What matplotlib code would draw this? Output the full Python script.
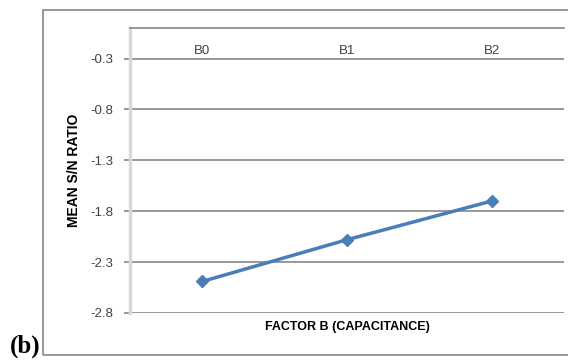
import matplotlib.pyplot as plt
from matplotlib.patches import Rectangle

# 因子B各水平的平均信噪比
levels = ['B0', 'B1', 'B2']
mean_sn = [-2.49, -2.08, -1.70]
yticks = [-0.3, -0.8, -1.3, -1.8, -2.3, -2.8]

fig = plt.figure(figsize=(5.68, 3.6), dpi=100)
ax = fig.add_axes([0.2289, 0.1306, 0.7641, 0.7916])

# 外框
fig.patches.append(Rectangle((43 / 568, 5 / 360), 1.0, 345 / 360, transform=fig.transFigure,
                             fill=False, edgecolor='#868686', linewidth=1.2, zorder=0))

x = list(range(len(levels)))
ax.plot(x, mean_sn, color='#4a7ebb', linewidth=2.5, marker='D', markersize=6,
        markeredgecolor='#4a7ebb', markerfacecolor='#4a7ebb')

ax.set_xlim(-0.5, len(levels) - 0.5)
ax.set_ylim(-2.8, 0)
ax.set_yticks(yticks)
ax.set_yticklabels([f'{v:.1f}' for v in yticks], fontsize=9.5, color='#404040',
                   family='Liberation Sans')
ax.yaxis.grid(True, color='#868686', linewidth=1.2)
ax.set_axisbelow(True)

# 类别轴在0处(顶部),标签放在轴线下方
ax.set_xticks(x)
ax.set_xticklabels(levels, fontsize=9.5, color='#404040', family='Liberation Sans')
ax.tick_params(axis='x', top=True, labeltop=True, bottom=False, labelbottom=False,
               length=0, pad=-21)
ax.tick_params(axis='y', length=4, color='#868686', width=1.2, pad=8)

for s in ['right', 'bottom']:
    ax.spines[s].set_visible(False)
ax.spines['top'].set_color('#868686')
ax.spines['top'].set_linewidth(1.2)
ax.spines['left'].set_color('#d9d9d9')
ax.spines['left'].set_linewidth(2.5)

ax.set_xlabel('FACTOR B (CAPACITANCE)', fontsize=9, fontweight='bold',
              family='Liberation Sans', labelpad=6)
ax.set_ylabel('MEAN S/N RATIO', fontsize=10, fontweight='bold',
              family='Liberation Sans', labelpad=7)

fig.text(10 / 568, 2 / 360, '(b)', fontsize=18, fontweight='bold', family='Liberation Serif',
         ha='left', va='bottom')

fig.savefig('out.png', dpi=100)
